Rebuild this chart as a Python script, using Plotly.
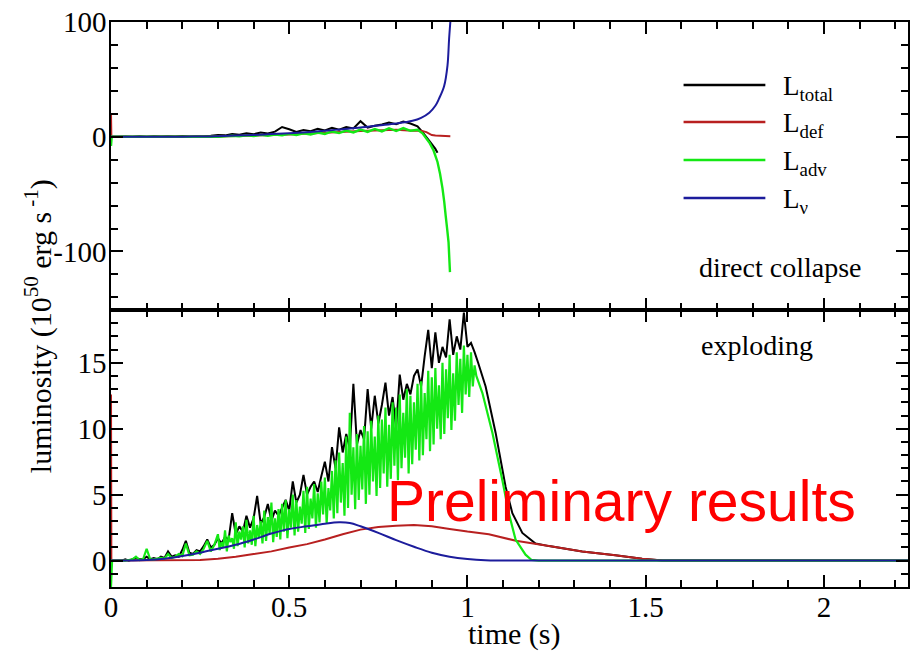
import plotly.graph_objects as go
from plotly.subplots import make_subplots

# ---------------- top panel: direct collapse ----------------
dc_total_t = [round(0.02 * i, 2) for i in range(44)] + [0.874, 0.893, 0.90, 0.91, 0.916]
dc_total = [0, 0, 0.3, 0, 0.5, 0, 0.4, 0.2, 0.5, 0.3,
            0.6, 0.3, 0.4, 0.5, 0.8, 1.5, 1.2, 2.4, 1.8, 3.0,
            2.2, 3.6, 2.8, 4.4, 8.5, 6.5, 4.2, 5.8, 4.8, 7.0,
            5.5, 7.8, 6.2, 8.4, 7.2, 13.5, 8.0, 9.6, 10.6, 12.4,
            11.0, 13.2, 11.5, 9.0,
            4.0, -3.5, -6.5, -10.6, -14.0]

dc_def_t = [0, 0.001, 0.3, 0.4, 0.5, 0.6, 0.7, 0.8, 0.846, 0.87, 0.885, 0.90, 0.91, 0.952]
dc_def = [20, 0, 0.3, 1.0, 2.0, 3.5, 5.0, 6.0, 5.2, 5.2, 4.0, 1.5, 1.0, 0.5]

dc_adv_t = [0, 0.002] + [round(0.30 + 0.02 * i, 2) for i in range(29)] + \
           [0.874, 0.893, 0.905, 0.916, 0.923, 0.930, 0.935, 0.939, 0.943, 0.947, 0.951]
dc_adv = [-8, 0,
          0, 0.3, 0.8, 0.3, 1.2, 0.6, 1.6, 0.9, 2.0, 1.2,
          2.5, 1.5, 3.0, 2.0, 3.6, 2.4, 4.6, 3.2, 5.4, 3.8,
          6.2, 4.2, 6.8, 4.6, 7.4, 5.0, 7.6, 5.2, 6.0,
          3.0, -5, -12, -22, -32, -45, -57, -69, -80, -92, -118]

dc_nu_t = [0, 0.1, 0.2, 0.28, 0.3, 0.35, 0.4, 0.45, 0.5, 0.55, 0.6, 0.65, 0.7, 0.75,
           0.8, 0.846, 0.87, 0.893, 0.91, 0.92, 0.9345, 0.944, 0.9485, 0.952]
dc_nu = [0, 0, 0.1, 0.2, 0.5, 1.0, 1.6, 2.3, 3.0, 4.0, 5.2, 6.6, 8.0, 9.8,
         11.5, 13.9, 16.5, 21, 27, 33, 44, 62, 85, 100]

# ---------------- bottom panel: exploding ----------------
ex_total_t = [round(0.01 * i, 2) for i in range(104)] + \
             [1.051, 1.079, 1.107, 1.126, 1.154, 1.191, 1.229, 1.322, 1.415, 1.49, 1.546, 2.24]
ex_total = [0, 0, 0, 0, 0.1, 0, 0.1, 0.2, 0.1, 0.1,
            0.3, 0.1, 0.2, 0.1, 0.3, 0.2, 0.7, 0.3, 0.4, 0.3,
            0.8, 1.5, 0.6, 0.5, 0.8, 0.7, 1.1, 1.6, 1.0, 1.2,
            1.7, 1.3, 1.8, 1.6, 3.6, 2.0, 2.6, 2.2, 3.4, 2.5,
            3.2, 4.9, 2.8, 3.3, 4.3, 3.0, 3.8, 3.4, 4.0, 4.6,
            3.8, 6.0, 4.4, 5.0, 6.5, 5.0, 5.6, 6.0, 5.2, 6.4,
            7.5, 6.0, 8.6, 7.0, 10.1, 8.2, 9.6, 8.5, 13.4, 8.8,
            9.9, 9.2, 13.0, 10.0, 12.5, 10.4, 11.8, 13.5, 11.0, 12.4,
            10.0, 14.1, 12.2, 13.4, 12.6, 14.0, 14.5, 13.2, 15.5, 17.5,
            14.6, 17.3, 15.0, 16.2, 15.4, 18.3, 15.6, 17.0, 16.0, 18.8,
            16.2, 16.5, 15.8, 15.0,
            13.2, 9.7, 5.6, 3.6, 2.1, 1.3, 1.1, 0.7, 0.4, 0.15, 0.0, 0.0]

ex_adv_lead_t = [0, 0.003] + [round(0.01 * i, 2) for i in range(1, 30)]
ex_adv_lead = [-2, 0,
               0, 0, 0, 0, 0.05, 0.1, 0.3, 0.05, 0.1,
               0.9, 0.1, 0.1, 0.15, 0.2, 0.15, 0.5, 0.2, 0.3, 0.5,
               0.35, 1.3, 0.4, 0.45, 0.7, 0.5, 0.9, 1.5, 0.7, 1.2]
# upper points of the green oscillation (t = 0.30 ... 1.02)
ex_adv_hi = [2.0, 1.4, 2.3, 1.9, 1.7, 2.9, 2.2, 2.6, 3.1, 2.3,
             3.4, 2.7, 3.0, 3.8, 3.3, 4.4, 3.2, 3.9, 4.3, 4.6,
             3.9, 5.0, 4.6, 4.1, 5.3, 5.6, 4.7, 5.8, 5.1, 6.0,
             6.3, 5.5, 6.8, 7.6, 8.2, 7.4, 9.4, 11.2, 8.6, 9.6,
             8.7, 10.2, 9.8, 10.6, 9.4, 11.0, 10.7, 11.6, 10.3, 12.0,
             11.6, 12.6, 11.2, 13.0, 12.5, 12.0, 13.4, 13.6, 12.7, 14.4,
             13.9, 14.6, 13.3, 15.0, 14.5, 15.6, 14.2, 15.8, 15.3, 16.3,
             15.6, 15.8, 14.8]
# lower points of the green oscillation (t = 0.305 ... 1.025)
ex_adv_lo = [0.8, 1.0, 0.7, 1.4, 0.9, 1.1, 1.6, 1.0, 1.3, 1.2,
             1.1, 1.7, 1.3, 1.5, 2.0, 1.4, 1.8, 1.6, 2.2, 1.7,
             2.5, 1.9, 2.2, 2.8, 2.1, 2.4, 3.2, 2.5, 2.9, 3.5,
             2.8, 3.8, 3.2, 3.6, 4.4, 3.4, 4.0, 5.0, 3.9, 4.6,
             5.4, 4.3, 5.0, 6.0, 4.9, 5.5, 6.6, 5.6, 6.2, 7.2,
             6.1, 7.0, 7.8, 6.6, 7.3, 8.4, 7.6, 8.0, 9.2, 8.3,
             8.8, 10.0, 9.2, 9.6, 10.8, 9.9, 10.6, 11.8, 11.2, 12.6,
             12.4, 13.2, 14.0]
ex_adv_tail_t = [1.042, 1.07, 1.098, 1.116, 1.135, 1.163, 1.18, 1.2, 2.24]
ex_adv_tail = [12.7, 9.7, 6.1, 3.6, 1.6, 0.45, 0.05, 0, 0]

ex_def_t = [0, 0.001, 0.25, 0.3, 0.35, 0.4, 0.45, 0.5, 0.55, 0.6, 0.65, 0.7, 0.75, 0.8,
            0.85, 0.9, 0.95, 1.0, 1.06, 1.136, 1.229, 1.322, 1.415, 1.49, 1.55, 2.24]
ex_def = [12.6, 0, 0.05, 0.15, 0.3, 0.5, 0.7, 1.0, 1.25, 1.6, 2.0, 2.35, 2.55, 2.65,
          2.7, 2.6, 2.4, 2.2, 2.0, 1.5, 1.1, 0.7, 0.4, 0.15, 0, 0]

ex_nu_t = [0, 0.1, 0.15, 0.2, 0.25, 0.3, 0.35, 0.4, 0.45, 0.5, 0.55, 0.6, 0.64, 0.67,
           0.7, 0.75, 0.8, 0.85, 0.9, 0.95, 1.0, 1.05, 1.1, 2.24]
ex_nu = [0, 0.05, 0.15, 0.35, 0.6, 0.9, 1.2, 1.6, 2.05, 2.4, 2.6, 2.8, 2.9, 2.85,
         2.6, 2.1, 1.55, 1.05, 0.6, 0.3, 0.12, 0.02, 0, 0]

x_ticks = [0, 0.5, 1, 1.5, 2]
x_ticktext = ["0", "0.5", "1", "1.5", "2"]
top_yticks = [-100, 0, 100]
top_yticktext = ["-100", "0", "100"]
bot_yticks = [0, 5, 10, 15]
bot_yticktext = ["0", "5", "10", "15"]
legend_labels = ["L<sub>total</sub>", "L<sub>def</sub>", "L<sub>adv</sub>", "L<sub>ν</sub>"]

# assemble green oscillation of the exploding model
adv_pts = [(round(0.30 + 0.01 * i, 3), v) for i, v in enumerate(ex_adv_hi)] + \
          [(round(0.305 + 0.01 * i, 3), v) for i, v in enumerate(ex_adv_lo)]
adv_pts.sort()
ex_adv_t = ex_adv_lead_t + [p[0] for p in adv_pts] + ex_adv_tail_t
ex_adv = ex_adv_lead + [p[1] for p in adv_pts] + ex_adv_tail

C_TOT = "#000000"
C_DEF = "#b82020"
C_ADV = "#14e814"
C_NU = "#1c1c9c"
SERIF = "Liberation Serif, Times New Roman, Times, serif"
SANS = "Liberation Sans, Arial, Helvetica, sans-serif"

fig = make_subplots(rows=2, cols=1, shared_xaxes=True, vertical_spacing=0,
                    row_heights=[288, 277])

def add(t, v, color, row, width=2.0, shape="linear"):
    fig.add_trace(go.Scatter(x=t, y=v, mode="lines", showlegend=False,
                             line=dict(color=color, width=width, shape=shape, simplify=False)),
                  row=row, col=1)

add(dc_total_t, dc_total, C_TOT, 1)
add(dc_def_t, dc_def, C_DEF, 1)
add(dc_adv_t, dc_adv, C_ADV, 1, width=2.4)
add(dc_nu_t, dc_nu, C_NU, 1, shape="spline")

add(ex_total_t, ex_total, C_TOT, 2)
add(ex_def_t, ex_def, C_DEF, 2)
add(ex_adv_t, ex_adv, C_ADV, 2, width=2.2)
add(ex_nu_t, ex_nu, C_NU, 2, shape="spline")

tickfont = dict(family=SERIF, size=29, color="black")
xcommon = dict(range=[0, 2.236], showline=True, linecolor="black", linewidth=1.5,
               mirror="ticks", ticks="inside", ticklen=12, tickwidth=1.5, tickcolor="black",
               tickvals=x_ticks, ticktext=x_ticktext,
               minor=dict(ticks="inside", ticklen=7, tickwidth=1.5, tickcolor="black",
                          tick0=0, dtick=0.1),
               showgrid=False, zeroline=False, tickfont=tickfont, ticklabelstandoff=-7)
fig.update_xaxes(**xcommon)
fig.update_xaxes(showticklabels=False, row=1, col=1)

ycommon = dict(showline=True, linecolor="black", linewidth=1.5, mirror="ticks",
               ticks="inside", ticklen=12, tickwidth=1.5, tickcolor="black",
               showgrid=False, zeroline=False, tickfont=tickfont, ticklabelstandoff=-3)
fig.update_yaxes(**ycommon, range=[-151, 100], tickvals=top_yticks, ticktext=top_yticktext,
                 minor=dict(ticks="inside", ticklen=7, tickwidth=1.5, tickcolor="black",
                            tick0=0, dtick=20), row=1, col=1)
fig.update_yaxes(**ycommon, range=[-2, 19], tickvals=bot_yticks, ticktext=bot_yticktext,
                 minor=dict(ticks="inside", ticklen=7, tickwidth=1.5, tickcolor="black",
                            tick0=0, dtick=1), row=2, col=1)

L, R, T, B = 111, 910, 22, 587
def px(x):
    return (x - L) / (R - L)
def py(y):
    return (B - y) / (B - T)

anns = []
# axis titles
anns.append(dict(text="time (s)", x=px(515), y=py(634), xref="paper", yref="paper",
                 showarrow=False, xanchor="center", yanchor="middle",
                 font=dict(family=SERIF, size=30, color="black")))
anns.append(dict(text="luminosity (10<sup>50</sup> erg s<sup> -1</sup>)", textangle=-90,
                 x=px(38), y=py(326), xref="paper", yref="paper", showarrow=False,
                 xanchor="center", yanchor="middle",
                 font=dict(family=SERIF, size=30, color="black")))
# panel labels
anns.append(dict(text="direct collapse", x=px(698), y=py(267), xref="paper", yref="paper",
                 showarrow=False, xanchor="left", yanchor="middle",
                 font=dict(family=SERIF, size=28, color="black")))
anns.append(dict(text="exploding", x=px(700), y=py(345), xref="paper", yref="paper",
                 showarrow=False, xanchor="left", yanchor="middle",
                 font=dict(family=SERIF, size=28, color="black")))
# watermark
anns.append(dict(text="Preliminary results", x=px(623), y=py(501), xref="paper", yref="paper",
                 showarrow=False, xanchor="center", yanchor="middle",
                 font=dict(family=SANS, size=57, color="#ff0000")))

# hand-placed legend
shapes = []
leg_y = [85, 122, 160, 198]
for lab, col, yy in zip(legend_labels, [C_TOT, C_DEF, C_ADV, C_NU], leg_y):
    shapes.append(dict(type="line", xref="paper", yref="paper", x0=px(685), x1=px(767),
                       y0=py(yy), y1=py(yy), line=dict(color=col, width=2.5)))
    anns.append(dict(text=lab, x=px(783), y=py(yy + 3), xref="paper", yref="paper",
                     showarrow=False, xanchor="left", yanchor="middle",
                     font=dict(family=SERIF, size=27, color="black")))

fig.update_layout(width=912, height=653, margin=dict(l=L, r=912 - R, t=T, b=653 - B),
                  paper_bgcolor="white", plot_bgcolor="white",
                  font=dict(family=SERIF, color="black"),
                  annotations=anns, shapes=shapes, showlegend=False)

fig.write_html("out.html")
